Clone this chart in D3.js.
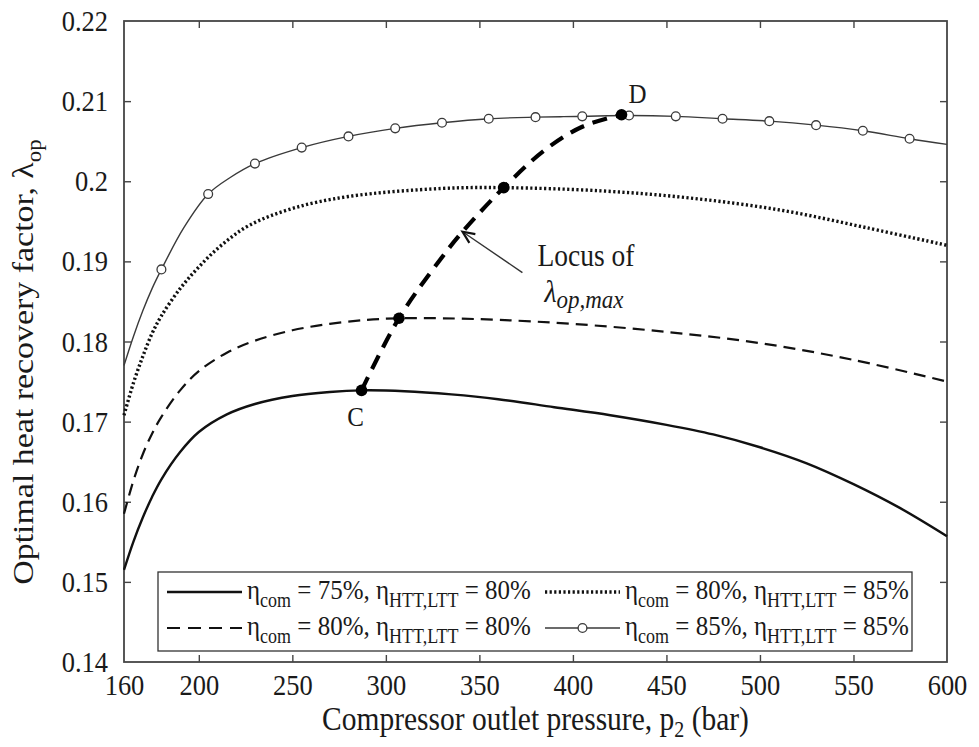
<!DOCTYPE html>
<html>
<head>
<meta charset="utf-8">
<script src="https://cdn.jsdelivr.net/npm/d3@7/dist/d3.min.js"></script>
<style>
  body { margin: 0; background: #fff; }
  text { font-family: "Liberation Serif", "Times New Roman", serif; fill: #1a1a1a; }
</style>
</head>
<body>
<svg id="chart" width="979" height="747"></svg>
<script>
// Axis ticks
const xTicks = [160, 200, 250, 300, 350, 400, 450, 500, 550, 600];
const yTicks = [0.14, 0.15, 0.16, 0.17, 0.18, 0.19, 0.2, 0.21, 0.22];

// eta_com = 75 %, eta_HTT,LTT = 80 %
const p75_80   = [160, 165, 170, 175, 180, 190, 200, 215, 230, 250, 270, 287, 310, 335, 360, 390, 420, 450, 475, 500, 525, 550, 575, 600];
const lam75_80 = [0.1515, 0.1550, 0.1580, 0.1606, 0.1628, 0.1662, 0.1687, 0.1709, 0.1722, 0.1732, 0.1737, 0.1739, 0.1738, 0.1734, 0.1728, 0.1718, 0.1708, 0.1696, 0.1684, 0.1668, 0.1648, 0.1622, 0.1592, 0.1557];

// eta_com = 80 %, eta_HTT,LTT = 80 %
const p80_80   = [160, 165, 170, 175, 180, 190, 200, 215, 230, 250, 270, 290, 307, 330, 360, 400, 450, 500, 550, 600];
const lam80_80 = [0.1585, 0.1626, 0.1659, 0.1685, 0.1706, 0.1739, 0.1763, 0.1786, 0.1801, 0.1814, 0.1822, 0.1827, 0.1829, 0.1829, 0.1827, 0.1822, 0.1812, 0.1798, 0.1777, 0.1750];

// eta_com = 80 %, eta_HTT,LTT = 85 %
const p80_85   = [160, 165, 170, 175, 180, 190, 200, 212, 227, 250, 280, 330, 363, 415, 463, 511, 557, 600];
const lam80_85 = [0.1708, 0.1748, 0.1781, 0.1810, 0.1832, 0.1866, 0.1893, 0.1920, 0.1945, 0.1966, 0.1981, 0.1991, 0.1992, 0.1988, 0.1979, 0.1964, 0.1942, 0.1920];

// eta_com = 85 %, eta_HTT,LTT = 85 % (open circles every 25 bar from 180 bar)
const p85_85   = [160, 165, 170, 175, 180, 192, 205, 217, 230, 255, 280, 305, 330, 355, 380, 405, 430, 455, 480, 505, 530, 555, 580, 600];
const lam85_85 = [0.1770, 0.1806, 0.1838, 0.1866, 0.1890, 0.1942, 0.1984, 0.2005, 0.2022, 0.2042, 0.2056, 0.2066, 0.2073, 0.2078, 0.2080, 0.2081, 0.2082, 0.2081, 0.2078, 0.2075, 0.2070, 0.2063, 0.2053, 0.2046];
const markerP85 = [180, 205, 230, 255, 280, 305, 330, 355, 380, 405, 430, 455, 480, 505, 530, 555, 580];

// Locus of the maximum optimal heat recovery factor, from C to D
const pLocus   = [287, 307, 329, 341, 363, 385, 405, 426];
const lamLocus = [0.1739, 0.1829, 0.1902, 0.1937, 0.1992, 0.2039, 0.2068, 0.2083];
// Filled points on the locus and their letters
const locusPointP   = [287, 307, 363, 426];
const locusPointLam = [0.1739, 0.1829, 0.1992, 0.2083];
const pointLetters = [{p: 287, lam: 0.1739, name: "C", dx: -6, dy: 36}, {p: 426, lam: 0.2083, name: "D", dx: 16, dy: -12}];

// Arrow annotation (data coordinates of tail and head)
const arrowTail = [373, 0.1886];
const arrowHead = [341, 0.1937];

const margin = {left: 124, top: 21, right: 32, bottom: 85};
const W = 979, H = 747;
const iw = W - margin.left - margin.right;
const ih = H - margin.top - margin.bottom;
const stretch = 1.12;   // tall serif lettering

const svg = d3.select("#chart");
const g = svg.append("g").attr("transform", `translate(${margin.left},${margin.top})`);

const x = d3.scaleLinear().domain([160, 600]).range([0, iw]);
const y = d3.scaleLinear().domain([0.14, 0.22]).range([ih, 0]);

const axisColor = "#454545";
const tickLen = 7;

// Box frame
g.append("rect").attr("x", 0).attr("y", 0).attr("width", iw).attr("height", ih)
  .attr("fill", "none").attr("stroke", axisColor).attr("stroke-width", 1.8);

// Inward ticks on all four sides
const xAxisB = d3.axisBottom(x).tickValues(xTicks).tickSizeInner(-tickLen).tickSizeOuter(0).tickPadding(11).tickFormat(d3.format("d"));
const xAxisT = d3.axisTop(x).tickValues(xTicks).tickSizeInner(-tickLen).tickSizeOuter(0).tickFormat("");
const yAxisL = d3.axisLeft(y).tickValues(yTicks).tickSizeInner(-tickLen).tickSizeOuter(0).tickPadding(16).tickFormat(d => d === 0.2 ? "0.2" : d3.format(".2f")(d));
const yAxisR = d3.axisRight(y).tickValues(yTicks).tickSizeInner(-tickLen).tickSizeOuter(0).tickFormat("");

function styleAxis(sel) {
  sel.select(".domain").remove();
  sel.selectAll("line").attr("stroke", axisColor).attr("stroke-width", 1.4);
  sel.selectAll("text").attr("font-size", 26.5).attr("fill", "#2a2a2a")
     .attr("font-family", "Liberation Serif, serif")
     .attr("transform", `scale(1,${stretch})`);
}
g.append("g").attr("transform", `translate(0,${ih})`).call(xAxisB).call(styleAxis);
g.append("g").call(xAxisT).call(styleAxis);
g.append("g").call(yAxisL).call(styleAxis);
g.append("g").attr("transform", `translate(${iw},0)`).call(yAxisR).call(styleAxis);
// no tick marks on the frame corners
g.selectAll(".tick").filter(d => d === 160 || d === 600 || d === 0.14 || d === 0.22).select("line").remove();

// Axis titles
const xt = svg.append("text").attr("transform", `translate(${margin.left + iw / 2},730) scale(1,${stretch})`)
  .attr("text-anchor", "middle").attr("font-size", 29.5);
xt.append("tspan").text("Compressor outlet pressure, p");
xt.append("tspan").attr("font-size", 20).attr("dy", 6).text("2");
xt.append("tspan").attr("dy", -6).text(" (bar)");

const yt = svg.append("text").attr("transform", `translate(33,362) rotate(-90) scale(1.15,1)`)
  .attr("text-anchor", "middle").attr("font-size", 29.5);
yt.append("tspan").text("Optimal heat recovery factor, λ");
yt.append("tspan").attr("font-size", 20).attr("dy", 8).text("op");

const line = (px, py) => d3.line().x((d, i) => x(px[i])).y(d => y(d)).curve(d3.curveCatmullRom.alpha(0.5))(py);
const plot = g.append("g");

plot.append("path").attr("d", line(p75_80, lam75_80))
  .attr("fill", "none").attr("stroke", "#111").attr("stroke-width", 2.4);
plot.append("path").attr("d", line(p80_80, lam80_80))
  .attr("fill", "none").attr("stroke", "#111").attr("stroke-width", 2.2).attr("stroke-dasharray", "12,7");
plot.append("path").attr("d", line(p80_85, lam80_85))
  .attr("fill", "none").attr("stroke", "#111").attr("stroke-width", 3.4).attr("stroke-dasharray", "2.2,2.4");
plot.append("path").attr("d", line(p85_85, lam85_85))
  .attr("fill", "none").attr("stroke", "#3a3a3a").attr("stroke-width", 1.4);
plot.selectAll("circle.m85").data(p85_85.map((p, i) => [p, lam85_85[i]]).filter(d => markerP85.includes(d[0])))
  .join("circle").attr("class", "m85")
  .attr("cx", d => x(d[0])).attr("cy", d => y(d[1])).attr("r", 4.4)
  .attr("fill", "#fff").attr("stroke", "#3a3a3a").attr("stroke-width", 1.3);

// Locus
plot.append("path").attr("d", d3.line().x((d, i) => x(pLocus[i])).y(d => y(d)).curve(d3.curveCatmullRom)(lamLocus))
  .attr("fill", "none").attr("stroke", "#000").attr("stroke-width", 4.2).attr("stroke-dasharray", "15,9");
plot.selectAll("circle.lp").data(locusPointP.map((p, i) => [p, locusPointLam[i]]))
  .join("circle").attr("class", "lp")
  .attr("cx", d => x(d[0])).attr("cy", d => y(d[1])).attr("r", 5.8).attr("fill", "#000");
plot.selectAll("text.lbl").data(pointLetters).join("text").attr("class", "lbl")
  .attr("transform", d => `translate(${x(d.p) + d.dx},${y(d.lam) + d.dy}) scale(1,${stretch})`)
  .attr("text-anchor", "middle").attr("font-size", 25).text(d => d.name);

// Arrow pointing at the locus
const ax1 = x(arrowTail[0]), ay1 = y(arrowTail[1]), ax2 = x(arrowHead[0]), ay2 = y(arrowHead[1]);
plot.append("line").attr("x1", ax1).attr("y1", ay1).attr("x2", ax2).attr("y2", ay2)
  .attr("stroke", "#333").attr("stroke-width", 1.4);
const ang = Math.atan2(ay2 - ay1, ax2 - ax1);
const headLen = 13, headW = 0.42;
plot.append("path")
  .attr("d", `M${ax2 - headLen * Math.cos(ang - headW)},${ay2 - headLen * Math.sin(ang - headW)} L${ax2},${ay2} L${ax2 - headLen * Math.cos(ang + headW)},${ay2 - headLen * Math.sin(ang + headW)}`)
  .attr("fill", "none").attr("stroke", "#111").attr("stroke-width", 2.2);

plot.append("text").attr("transform", `translate(${ax1 + 15},${ay1 - 7}) scale(1,${stretch})`)
  .attr("font-size", 27.5).text("Locus of");
const lm = plot.append("text").attr("transform", `translate(${ax1 + 22},${ay1 + 29}) scale(1,${stretch})`)
  .attr("font-size", 28).attr("font-style", "italic");
lm.append("tspan").text("λ");
lm.append("tspan").attr("font-size", 23).attr("dy", 6).text("op,max");

// Legend
const legend = g.append("g").attr("transform", `translate(${158 - margin.left},${572 - margin.top})`);
legend.append("rect").attr("width", 754).attr("height", 79)
  .attr("fill", "#fff").attr("stroke", "#333").attr("stroke-width", 1.3);
const entries = [
  {com: "75%", htt: "80%", col: 0, row: 0, dash: null, w: 2.4, c: "#111", marker: false},
  {com: "80%", htt: "85%", col: 1, row: 0, dash: "2.2,2.4", w: 3.4, c: "#111", marker: false},
  {com: "80%", htt: "80%", col: 0, row: 1, dash: "13,8", w: 2.2, c: "#111", marker: false},
  {com: "85%", htt: "85%", col: 1, row: 1, dash: null, w: 1.4, c: "#3a3a3a", marker: true}
];
const colX = [9, 387], rowY = [20, 56];
entries.forEach(e => {
  const ex = colX[e.col], ey = rowY[e.row];
  const ln = legend.append("line").attr("x1", ex).attr("x2", ex + 75).attr("y1", ey).attr("y2", ey)
    .attr("stroke", e.c).attr("stroke-width", e.w);
  if (e.dash) ln.attr("stroke-dasharray", e.dash);
  if (e.marker) legend.append("circle").attr("cx", ex + 37.5).attr("cy", ey).attr("r", 4.4)
    .attr("fill", "#fff").attr("stroke", e.c).attr("stroke-width", 1.3);
  const t = legend.append("text").attr("transform", `translate(${ex + 80},${ey + 7}) scale(1,${stretch})`)
    .attr("font-size", 25);
  t.append("tspan").text("η");
  t.append("tspan").attr("font-size", 18).attr("dy", 7).text("com");
  t.append("tspan").attr("dy", -7).text(` = ${e.com}, η`);
  t.append("tspan").attr("font-size", 18).attr("dy", 7).text("HTT,LTT");
  t.append("tspan").attr("dy", -7).text(` = ${e.htt}`);
});
</script>
</body>
</html>
